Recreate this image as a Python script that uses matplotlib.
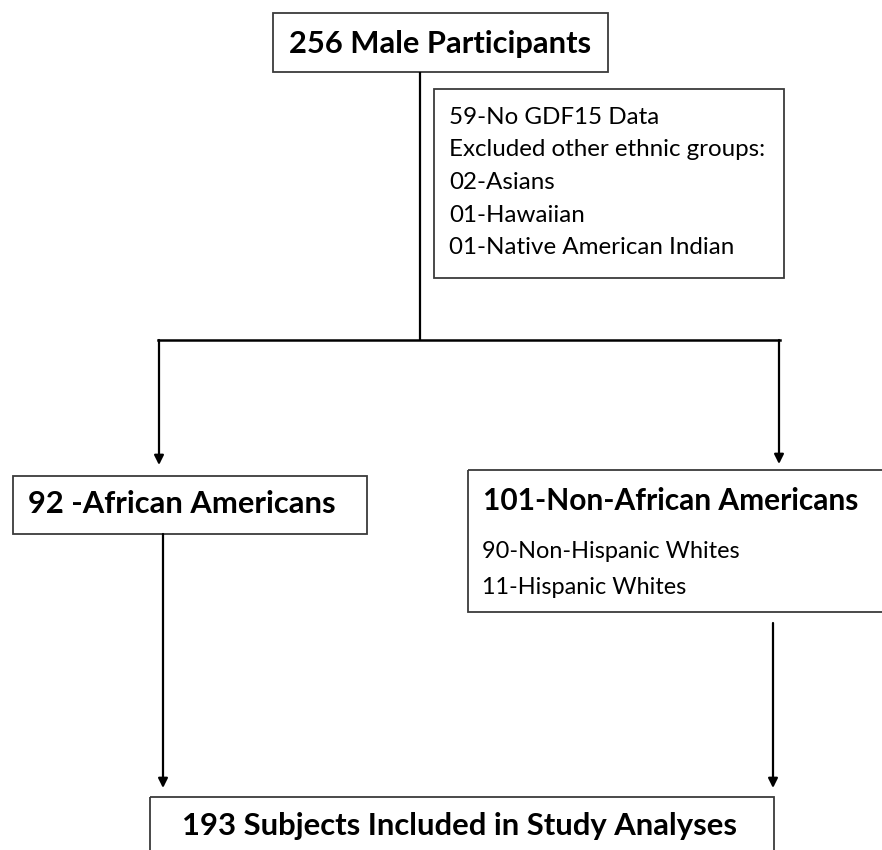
import matplotlib
matplotlib.use("Agg")
import matplotlib.pyplot as plt
from matplotlib.patches import Rectangle

plt.rcParams['font.family'] = ['Lato', 'DejaVu Sans']

# flowchart text
top_label = "256 Male Participants"
excl_lines = ["59-No GDF15 Data", "Excluded other ethnic groups:",
              "02-Asians", "01-Hawaiian", "01-Native American Indian"]
aa_label = "92 -African Americans"
naa_label = "101-Non-African Americans"
naa_sub = ["90-Non-Hispanic Whites", "11-Hispanic Whites"]
final_label = "193 Subjects Included in Study Analyses"

W, H = 882, 850
fig = plt.figure(figsize=(W/100, H/100), dpi=100)
ax = fig.add_axes([0, 0, 1, 1])
ax.set_xlim(0, W); ax.set_ylim(H, 0)
ax.axis('off')
fig.canvas.draw()
rend = fig.canvas.get_renderer()

edge = '#3a3a3a'
def box(x0, y0, x1, y1):
    ax.add_patch(Rectangle((x0, y0), x1-x0, y1-y0, fill=False, ec=edge, lw=1.3))

def fit(x, y, s, width, **kw):
    t = ax.text(x, y, s, fontsize=20, va='center', **kw)
    bb = t.get_window_extent(rend)
    t.set_fontsize(20*width/bb.width)
    return t

def vline(x, y0, y1):
    ax.plot([x, x], [y0, y1], color='k', lw=1.6, solid_capstyle='butt')

def arrow(x, y0, y1):
    ax.annotate('', xy=(x, y1), xytext=(x, y0),
                arrowprops=dict(arrowstyle='-|>', color='k', lw=1.6,
                                mutation_scale=14, shrinkA=0, shrinkB=0))

# top box
box(273, 13, 608, 72)
fit(440, 44, top_label, 302, ha='center', fontweight='bold')
vline(420, 72, 340)

# exclusion box
box(434, 89, 784, 278)
t = fit(449, 117, excl_lines[1], 317, ha='left')
fs = t.get_fontsize(); t.remove()
for i, s in enumerate(excl_lines):
    ax.text(449, 117 + i*32.7, s, fontsize=fs, va='center', ha='left')

# split line and arrows
ax.plot([158, 780], [340, 340], color='k', lw=1.8, solid_capstyle='projecting')
arrow(159, 340, 465)
arrow(779, 340, 464)

# left group
box(13, 476, 367, 534)
fit(28, 504, aa_label, 307, ha='left', fontweight='bold')
arrow(163, 534, 788)

# right group
box(468, 470, 890, 612)
fit(483, 501, naa_label, 375, ha='left', fontweight='bold')
t = fit(482, 551, naa_sub[0], 258, ha='left')
fs = t.get_fontsize()
ax.text(482, 588, naa_sub[1], fontsize=fs, va='center', ha='left')
arrow(773, 623, 788)

# final box
box(150, 797, 774, 870)
fit(460, 826, final_label, 555, ha='center', fontweight='bold')

fig.savefig('out.png', dpi=100)
